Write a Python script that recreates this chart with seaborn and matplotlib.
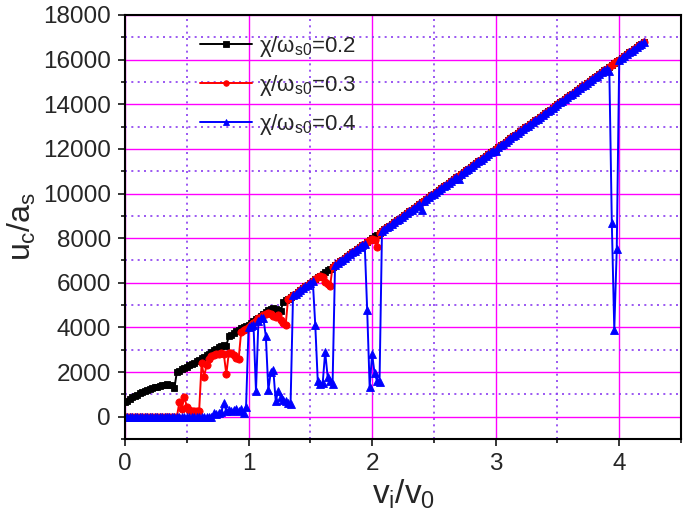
import numpy as np
import pandas as pd
import matplotlib
matplotlib.use('Agg')
import matplotlib.pyplot as plt
import seaborn as sns
from matplotlib.ticker import MultipleLocator

# sampling grid of v_i/v_0 (step 0.02, 0 .. 4.2)
vi = np.round(np.arange(211) * 0.02, 2)

# u_c/a_s, chi/omega_s0 = 0.2
chi_02 = [
    650, 720, 800, 870, 930, 990, 1050, 1100, 1150, 1200,
    1240, 1280, 1310, 1340, 1370, 1400, 1420, 1450, 1440, 1420,
    1300, 2000, 2060, 2120, 2180, 2240, 2300, 2360, 2420, 2490,
    2550, 2620, 2690, 2760, 2830, 2900, 2970, 3050, 3120, 3170,
    3200, 3180, 3600, 3680, 3760, 3840, 3900, 3960, 4020, 4080,
    4120, 4200, 4280, 4360, 4440, 4520, 4600, 4680, 4760, 4820,
    4850, 4830, 4800, 4720, 5150, 5220, 5280, 5360, 5440, 5520,
    5600, 5680, 5760, 5840, 5920, 6000, 6080, 6160, 6240, 6320,
    6400, 6480, 6560, 6640, 6720, 6800, 6880, 6960, 7040, 7120,
    7200, 7280, 7360, 7440, 7520, 7600, 7680, 7760, 7840, 7920,
    8000, 8080, 8160, 8240, 8320, 8400, 8480, 8560, 8640, 8720,
    8800, 8880, 8960, 9040, 9120, 9200, 9280, 9360, 9440, 9520,
    9600, 9680, 9760, 9840, 9920, 10000, 10080, 10160, 10240, 10320,
    10400, 10480, 10560, 10640, 10720, 10800, 10880, 10960, 11040, 11120,
    11200, 11280, 11360, 11440, 11520, 11600, 11680, 11760, 11840, 11920,
    12000, 12080, 12160, 12240, 12320, 12400, 12480, 12560, 12640, 12720,
    12800, 12880, 12960, 13040, 13120, 13200, 13280, 13360, 13440, 13520,
    13600, 13680, 13760, 13840, 13920, 14000, 14080, 14160, 14240, 14320,
    14400, 14480, 14560, 14640, 14720, 14800, 14880, 14960, 15040, 15120,
    15200, 15280, 15360, 15440, 15520, 15600, 15680, 15760, 15840, 15920,
    16000, 16080, 16160, 16240, 16320, 16400, 16480, 16560, 16640, 16720,
    16800,
]

# u_c/a_s, chi/omega_s0 = 0.3
chi_03 = [
    0, 0, 0, 0, 0, 0, 0, 0, 0, 0,
    0, 0, 0, 0, 0, 0, 0, 0, 0, 0,
    0, 0, 650, 350, 900, 450, 300, 250, 250, 250,
    250, 2400, 1800, 2300, 2600, 2700, 2750, 2800, 2800, 2850,
    2800, 1900, 2850, 2850, 2750, 2650, 2600, 3800, 3900, 3950,
    4000, 4100, 4200, 4300, 4400, 4450, 4550, 4600, 4650, 4600,
    4500, 4450, 4550, 4350, 4200, 4100, 5280, 5360, 5440, 5520,
    5600, 5680, 5760, 5840, 5920, 6000, 6080, 6160, 6240, 6300,
    6250, 6050, 5950, 5850, 6720, 6800, 6880, 6960, 7040, 7120,
    7200, 7280, 7360, 7440, 7520, 7600, 7680, 7760, 7840, 7900,
    7950, 7900, 7600, 8240, 8320, 8400, 8480, 8560, 8640, 8720,
    8800, 8880, 8960, 9040, 9120, 9200, 9280, 9360, 9440, 9520,
    9600, 9680, 9760, 9840, 9920, 10000, 10080, 10160, 10240, 10320,
    10400, 10480, 10560, 10640, 10720, 10800, 10880, 10960, 11040, 11120,
    11200, 11280, 11360, 11440, 11520, 11600, 11680, 11760, 11840, 11920,
    12000, 12080, 12160, 12240, 12320, 12400, 12480, 12560, 12640, 12720,
    12800, 12880, 12960, 13040, 13120, 13200, 13280, 13360, 13440, 13520,
    13600, 13680, 13760, 13840, 13920, 14000, 14080, 14160, 14240, 14320,
    14400, 14480, 14560, 14640, 14720, 14800, 14880, 14960, 15040, 15120,
    15200, 15280, 15360, 15440, 15520, 15600, 15680, 15760, 15840, 15920,
    16000, 16080, 16160, 16240, 16320, 16400, 16480, 16560, 16640, 16720,
    16800,
]

# u_c/a_s, chi/omega_s0 = 0.4
chi_04 = [
    0, 0, 0, 0, 0, 0, 0, 0, 0, 0,
    0, 0, 0, 0, 0, 0, 0, 0, 0, 0,
    0, 0, 0, 0, 0, 0, 0, 0, 0, 0,
    0, 0, 0, 0, 0, 0, 150, 100, 150, 200,
    600, 250, 300, 250, 300, 350, 250, 350, 150, 450,
    4000, 4050, 4100, 1150, 4300, 4400, 4400, 3600, 1200, 2000,
    2100, 700, 1150, 900, 750, 700, 600, 550, 5440, 5520,
    5600, 5680, 5760, 5840, 5920, 6000, 6080, 4100, 1600, 1450,
    1500, 2900, 1800, 1600, 1450, 6800, 6880, 6960, 7040, 7120,
    7200, 7280, 7360, 7440, 7520, 7600, 7680, 7760, 4800, 1350,
    2800, 1950, 1600, 1550, 8320, 8400, 8480, 8560, 8640, 8720,
    8800, 8880, 8960, 9040, 9120, 9200, 9280, 9360, 9440, 9520,
    9250, 9680, 9760, 9840, 9920, 10000, 10080, 10160, 10240, 10320,
    10400, 10480, 10560, 10640, 10720, 10650, 10880, 10960, 11040, 11120,
    11200, 11280, 11360, 11440, 11520, 11600, 11680, 11760, 11840, 11920,
    11900, 12080, 12160, 12240, 12320, 12400, 12480, 12560, 12640, 12720,
    12800, 12880, 12960, 13040, 13120, 13200, 13280, 13360, 13440, 13520,
    13600, 13680, 13760, 13840, 13920, 14000, 14080, 14160, 14240, 14320,
    14400, 14480, 14560, 14640, 14720, 14800, 14880, 14960, 15040, 15120,
    15200, 15280, 15360, 15440, 15520, 15600, 15500, 8700, 3900, 7500,
    16000, 16080, 16160, 16240, 16320, 16400, 16480, 16560, 16640, 16720,
    16800,
]

labels = [r'$\chi/\omega_{s0}$=0.2', r'$\chi/\omega_{s0}$=0.3', r'$\chi/\omega_{s0}$=0.4']

sns.set_style('ticks')
plt.rcParams['font.family'] = ['Liberation Sans', 'DejaVu Sans']
plt.rcParams['mathtext.fontset'] = 'custom'
plt.rcParams['mathtext.rm'] = 'Liberation Sans'
plt.rcParams['mathtext.it'] = 'Liberation Sans'
plt.rcParams['mathtext.bf'] = 'Liberation Sans:bold'

fig = plt.figure(figsize=(6.85, 5.2), dpi=100)
ax = fig.add_axes([125 / 685, 81 / 520, 556 / 685, 424 / 520])

series = [
    (chi_02, 'black', 's', 5.0),
    (chi_03, 'red', 'o', 5.2),
    (chi_04, 'blue', '^', 6.0),
]
for (vals, col, mk, ms), lab in zip(series, labels):
    sns.lineplot(x=vi, y=vals, color=col, marker=mk, markersize=ms,
                 markeredgecolor=col, markeredgewidth=0.6, linewidth=1.4,
                 estimator=None, ax=ax, label=lab)

ax.set_xlim(0, 4.5)
ax.set_ylim(-1000, 18000)
ax.xaxis.set_major_locator(MultipleLocator(1))
ax.xaxis.set_minor_locator(MultipleLocator(0.5))
ax.yaxis.set_major_locator(MultipleLocator(2000))
ax.yaxis.set_minor_locator(MultipleLocator(1000))

ax.set_axisbelow(True)
ax.grid(which='major', color='#ff00ff', linewidth=1.0, linestyle='-')
ax.grid(which='minor', color='#8a3cf0', linewidth=1.2, linestyle=(0, (1.2, 2.6)))

for sp in ax.spines.values():
    sp.set_linewidth(1.5)
    sp.set_color('black')

ax.tick_params(which='major', direction='out', length=5, width=1.3,
               labelsize=17.5, pad=5, top=False, right=False)
ax.tick_params(which='minor', direction='out', length=3, width=1.3,
               top=False, right=False)

ax.set_xlabel(r'$v_i/v_0$', fontsize=24, labelpad=2)
ax.set_ylabel(r'$u_c/a_s$', fontsize=23, labelpad=4)

leg = ax.legend(loc='upper left', bbox_to_anchor=(0.135, 0.955), frameon=False,
                fontsize=16, numpoints=1, handlelength=2.35, handletextpad=0.3,
                labelspacing=0.62, borderpad=0, borderaxespad=0)
for h in leg.legend_handles:
    h.set_markersize(4)

fig.savefig('out.png', dpi=100)
